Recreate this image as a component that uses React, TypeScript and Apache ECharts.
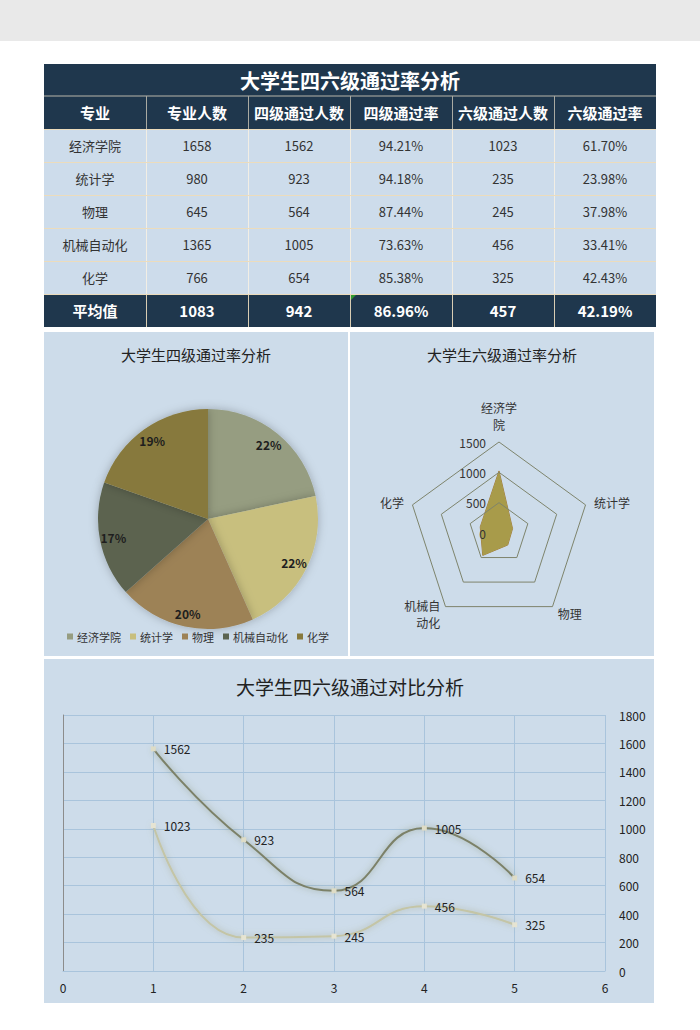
import React, { useEffect, useRef } from 'react';
import * as echarts from 'echarts';

// ---------- data ----------
const tableTitle = '大学生四六级通过率分析';
const headers = ['专业', '专业人数', '四级通过人数', '四级通过率', '六级通过人数', '六级通过率'];
const majors = ['经济学院', '统计学', '物理', '机械自动化', '化学'];
const enrolled = [1658, 980, 645, 1365, 766];
const pass4 = [1562, 923, 564, 1005, 654];
const rate4 = [94.21, 94.18, 87.44, 73.63, 85.38];
const pass6 = [1023, 235, 245, 456, 325];
const rate6 = [61.7, 23.98, 37.98, 33.41, 42.43];
const averageLabel = '平均值';
const averages = ['1083', '942', '86.96%', '457', '42.19%'];

const pieTitle = '大学生四级通过率分析';
const radarTitle = '大学生六级通过率分析';
const lineTitle = '大学生四六级通过对比分析';
const radarMax = 1500;
const lineXMax = 6;
const lineYMax = 1800;

// ---------- styles ----------
const FONT = "'Noto Sans CJK SC', 'Noto Sans', sans-serif";
const NAVY = '#1f374d';
const CELL = '#cddceb';
const PANEL = '#cddcea';
const pieColors = ['#969d81', '#c8bf7e', '#9d8256', '#5b634f', '#87793c'];

const TX = 44;
const COLW = 102;
const ROWH = 33;

function fmtPct(v: number) {
  return v.toFixed(2) + '%';
}

function buildGraphics() {
  const els: any[] = [];
  els.push({ type: 'rect', shape: { x: 0, y: 0, width: 700, height: 41 }, style: { fill: '#e9e9e9' } });
  els.push({ type: 'rect', shape: { x: 44, y: 332, width: 304, height: 324 }, style: { fill: PANEL } });
  els.push({ type: 'rect', shape: { x: 350, y: 332, width: 304, height: 324 }, style: { fill: PANEL } });
  els.push({ type: 'rect', shape: { x: 44, y: 659, width: 610, height: 344 }, style: { fill: PANEL } });

  const tableW = COLW * 6;
  const yTitle = 64;
  const yHeader = 96;
  const yData = 129;
  const yAvg = yData + ROWH * majors.length;

  els.push({ type: 'rect', shape: { x: TX, y: yTitle, width: tableW, height: yHeader - yTitle }, style: { fill: NAVY } });
  els.push({ type: 'rect', shape: { x: TX, y: yHeader, width: tableW, height: yData - yHeader }, style: { fill: NAVY } });
  els.push({ type: 'rect', shape: { x: TX, y: yData, width: tableW, height: yAvg - yData }, style: { fill: CELL } });
  els.push({ type: 'rect', shape: { x: TX, y: yAvg, width: tableW, height: ROWH }, style: { fill: NAVY } });

  els.push({ type: 'line', shape: { x1: TX, y1: yHeader, x2: TX + tableW, y2: yHeader }, style: { stroke: '#b9b6aa', lineWidth: 1 } });
  for (let c = 1; c < 6; c++) {
    const x = TX + c * COLW + 0.5;
    els.push({ type: 'line', shape: { x1: x, y1: yHeader, x2: x, y2: yData }, style: { stroke: '#a9aaa2', lineWidth: 1 } });
    els.push({ type: 'line', shape: { x1: x, y1: yData, x2: x, y2: yAvg }, style: { stroke: '#f2eee4', lineWidth: 1 } });
    els.push({ type: 'line', shape: { x1: x, y1: yAvg, x2: x, y2: yAvg + ROWH }, style: { stroke: '#d8cdb3', lineWidth: 1 } });
  }
  for (let r = 0; r <= majors.length; r++) {
    const y = yData + r * ROWH + 0.5;
    els.push({ type: 'line', shape: { x1: TX, y1: y, x2: TX + tableW, y2: y }, style: { stroke: '#ecdcbc', lineWidth: 1 } });
  }
  els.push({ type: 'polygon', shape: { points: [[TX + 3 * COLW + 1, yAvg + 1], [TX + 3 * COLW + 6, yAvg + 1], [TX + 3 * COLW + 1, yAvg + 6]] }, style: { fill: '#2f9b2f' } });

  const txt = (text: string, x: number, y: number, size: number, color: string, weight = 'normal') => ({
    type: 'text',
    x,
    y,
    style: {
      text,
      fill: color,
      fontSize: size,
      fontWeight: weight,
      fontFamily: FONT,
      align: 'center',
      verticalAlign: 'middle',
      textAlign: 'center',
      textVerticalAlign: 'middle',
    },
  });

  els.push(txt(tableTitle, TX + tableW / 2, (yTitle + yHeader) / 2, 20, '#ffffff', 'bold'));
  headers.forEach((h, c) => els.push(txt(h, TX + c * COLW + COLW / 2, (yHeader + yData) / 2, 15, '#ffffff', 'bold')));
  majors.forEach((m, r) => {
    const cy = yData + r * ROWH + ROWH / 2;
    const row = [m, String(enrolled[r]), String(pass4[r]), fmtPct(rate4[r]), String(pass6[r]), fmtPct(rate6[r])];
    row.forEach((v, c) => els.push(txt(v, TX + c * COLW + COLW / 2, cy, 13, '#333333')));
  });
  [averageLabel, ...averages].forEach((v, c) =>
    els.push(txt(v, TX + c * COLW + COLW / 2, yAvg + ROWH / 2, 15, '#ffffff', 'bold'))
  );

  els.push(txt(pieTitle, 196, 354, 15, '#222222'));
  els.push(txt(radarTitle, 502, 354, 15, '#222222'));
  els.push(txt(lineTitle, 350, 686, 19, '#222222'));
  return els;
}

// radar indicators go counter-clockwise in ECharts; order them so the picture reads clockwise
const radarOrder = [0, 4, 3, 2, 1];
const plain = (v: number) => String(v);

export default function App() {
  const ref = useRef<HTMLDivElement>(null);
  useEffect(() => {
    if (!ref.current) return;
    const chart = echarts.init(ref.current, undefined, { renderer: 'svg' });
    const option: any = {
      animation: false,
      backgroundColor: '#ffffff',
      textStyle: { fontFamily: FONT },
      graphic: { elements: buildGraphics() },
      legend: {
        data: majors,
        left: 67,
        top: 631,
        padding: 0,
        itemWidth: 6,
        itemHeight: 6,
        itemGap: 9,
        icon: 'rect',
        textStyle: { fontSize: 11, color: '#333', fontFamily: FONT, padding: [0, 0, 0, -1] },
      },
      radar: {
        z: 3,
        center: [499, 533],
        radius: 91,
        shape: 'polygon',
        startAngle: 90,
        splitNumber: 3,
        nameGap: 9,
        indicator: radarOrder.map((i, k) => ({
          name: majors[i],
          min: 0,
          max: radarMax,
          ...(k === 0
            ? { axisLabel: { show: true, color: '#333', fontSize: 12, fontFamily: FONT, margin: 13, formatter: plain } }
            : {}),
        })),
        axisName: {
          color: '#333',
          fontSize: 12,
          lineHeight: 17,
          fontFamily: FONT,
          formatter: (n: string) => (n.length > 3 ? n.slice(0, 3) + '\n' + n.slice(3) : n),
        },
        splitLine: { lineStyle: { color: '#7e846c', width: 1 } },
        splitArea: { show: false },
        axisLine: { show: false },
        axisTick: { show: false },
        axisLabel: { show: false },
      },
      grid: { left: 63, right: 95, top: 715, bottom: 59 },
      xAxis: {
        type: 'value',
        min: 0,
        max: lineXMax,
        interval: 1,
        axisLine: { show: true, lineStyle: { color: '#a9c4dc' } },
        axisTick: { show: false },
        splitLine: { show: true, lineStyle: { color: '#a9c4dc' } },
        axisLabel: { color: '#222', fontSize: 12, margin: 10, formatter: plain },
      },
      yAxis: {
        type: 'value',
        position: 'right',
        min: 0,
        max: lineYMax,
        interval: 200,
        axisLine: { show: true, lineStyle: { color: '#8c8c8c' } },
        axisTick: { show: false },
        splitLine: { show: true, lineStyle: { color: '#a9c4dc' } },
        axisLabel: { color: '#222', fontSize: 12, margin: 14, formatter: plain },
      },
      series: [
        {
          type: 'pie',
          name: 'pie',
          center: [208, 519],
          radius: 110,
          startAngle: 90,
          clockwise: true,
          label: { show: false },
          labelLine: { show: false },
          itemStyle: { shadowBlur: 10, shadowColor: 'rgba(0,0,0,0.25)' },
          data: majors.map((n, i) => ({ name: n, value: rate4[i], itemStyle: { color: pieColors[i] } })),
        },
        {
          type: 'pie',
          name: 'pieLabels',
          center: [208, 519],
          radius: [77, 110],
          startAngle: 90,
          clockwise: true,
          silent: true,
          percentPrecision: 0,
          itemStyle: { color: 'rgba(0,0,0,0)' },
          label: {
            show: true,
            position: 'inside',
            formatter: '{d}%',
            fontSize: 12,
            fontWeight: 'bold',
            color: '#1e1e1e',
            fontFamily: FONT,
          },
          labelLine: { show: false },
          data: majors.map((n, i) => ({ name: n, value: rate4[i] })),
        },
        {
          type: 'radar',
          z: 2,
          symbol: 'none',
          lineStyle: { color: '#a27b3f', width: 1 },
          areaStyle: { color: '#a89b4a', opacity: 1 },
          data: [{ name: '六级通过人数', value: radarOrder.map((i) => pass6[i]) }],
        },
        {
          type: 'line',
          name: '四级通过人数',
          smooth: 0.5,
          data: majors.map((_, i) => [i + 1, pass4[i]]),
          symbol: 'rect',
          symbolSize: 5,
          itemStyle: { color: '#dedcc6' },
          lineStyle: { color: '#7c8168', width: 2, shadowBlur: 6, shadowColor: 'rgba(110,120,80,0.6)' },
          label: { show: true, position: 'right', distance: 8, color: '#222', fontSize: 12, formatter: (p: any) => p.value[1] },
          z: 3,
        },
        {
          type: 'line',
          name: '六级通过人数',
          smooth: 0.5,
          data: majors.map((_, i) => [i + 1, pass6[i]]),
          symbol: 'rect',
          symbolSize: 5,
          itemStyle: { color: '#e6e4d2' },
          lineStyle: { color: '#c4c5a6', width: 2, shadowBlur: 6, shadowColor: 'rgba(150,150,110,0.6)' },
          label: { show: true, position: 'right', distance: 8, color: '#222', fontSize: 12, formatter: (p: any) => p.value[1] },
          z: 3,
        },
      ],
    };
    chart.setOption(option);
    return () => chart.dispose();
  }, []);
  return (
    <div
      ref={ref}
      style={{ position: 'absolute', left: 0, top: 0, width: 700, height: 1030, background: '#fff' }}
    />
  );
}
